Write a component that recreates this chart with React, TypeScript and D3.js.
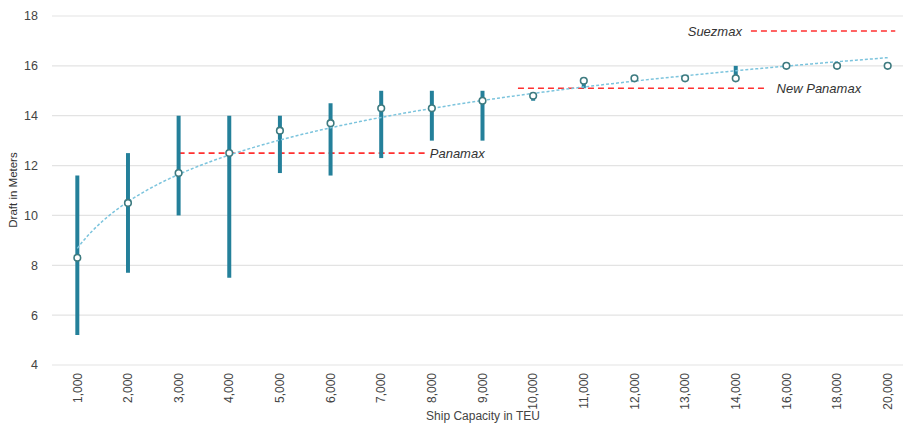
import * as d3 from 'd3';

// ship capacity categories (TEU)
const categories = ['1,000', '2,000', '3,000', '4,000', '5,000', '6,000', '7,000', '8,000', '9,000',
  '10,000', '11,000', '12,000', '13,000', '14,000', '16,000', '18,000', '20,000'];
// average draft (m)
const avgDraft = [8.3, 10.5, 11.7, 12.5, 13.4, 13.7, 14.3, 14.3, 14.6, 14.8, 15.4, 15.5, 15.5, 15.5, 16.0, 16.0, 16.0];
// min / max draft (m)
const minDraft = [5.2, 7.7, 10.0, 7.5, 11.7, 11.6, 12.3, 13.0, 13.0, 14.6, 15.1, 15.5, 15.5, 15.5, 16.0, 16.0, 16.0];
const maxDraft = [11.6, 12.5, 14.0, 14.0, 14.0, 14.5, 15.0, 15.0, 15.0, 14.9, 15.4, 15.5, 15.5, 16.0, 16.0, 16.0, 16.0];
const yTicks = [4, 6, 8, 10, 12, 14, 16, 18];

// canal limits: name, draft, span in category-index units
const limitNames = ['Panamax', 'New Panamax', 'Suezmax'];
const limitDraft = [12.5, 15.1, 17.4];
const limitFrom = [2, 8.7, 13.3];
const limitTo = [6.86, 13.57, 16.15];

const W = 903, H = 425;
const FONT = "'Liberation Sans Narrow', 'Arial Narrow', 'Liberation Sans', Arial, sans-serif";

export default function App() {
  const x = d3.scaleBand<string>().domain(categories).range([52, 913]).padding(0);
  const cx = (i: number) => (x(categories[0]) as number) + x.bandwidth() / 2 + i * x.step();
  const y = d3.scaleLinear().domain([4, 18]).range([365, 16]);

  // logarithmic trendline fitted to the averages (x = 1..n)
  const lx = avgDraft.map((_, i) => Math.log(i + 1));
  const mx = d3.mean(lx) as number, my = d3.mean(avgDraft) as number;
  const slope = d3.sum(lx, (v, i) => (v - mx) * (avgDraft[i] - my)) / d3.sum(lx, v => (v - mx) ** 2);
  const icpt = my - slope * mx;
  const trendPts = d3.range(0, categories.length - 1 + 0.001, 0.1).map(t => [cx(t), y(icpt + slope * Math.log(t + 1))] as [number, number]);
  const trend = d3.line().curve(d3.curveMonotoneX)(trendPts) as string;

  return (
    <svg width={W} height={H} style={{ position: 'absolute', left: 0, top: 0, background: '#fff' }} fontFamily={FONT}>
      {yTicks.map(t => (
        <g key={t}>
          <line x1={52} x2={W} y1={y(t)} y2={y(t)} stroke="#e3e3e3" strokeWidth={1.2} />
          <text x={38} y={y(t)} dy="0.35em" textAnchor="end" fontSize={12.5} fill="#444">{t}</text>
        </g>
      ))}
      {categories.map((c, i) => (
        <text key={c} transform={`translate(${cx(i)},373) rotate(-90)`} textAnchor="end" dy="0.35em" fontSize={12} fill="#444">{c}</text>
      ))}
      <text transform="translate(17,190) rotate(-90)" textAnchor="middle" fontSize={11.5} fill="#333">Draft in Meters</text>
      <text x={483} y={420} textAnchor="middle" fontSize={12} fill="#444">Ship Capacity in TEU</text>

      {limitNames.map((n, i) => (
        <line key={n} x1={cx(limitFrom[i])} x2={cx(limitTo[i])} y1={y(limitDraft[i])} y2={y(limitDraft[i])}
          stroke="#ff3030" strokeWidth={1.6} strokeDasharray="6,4" />
      ))}
      <text x={cx(limitTo[0]) + 5} y={y(limitDraft[0])} dy="0.35em" fontSize={13} fontStyle="italic" fill="#333">{limitNames[0]}</text>
      <text x={cx(limitTo[1]) + 12} y={y(limitDraft[1])} dy="0.35em" fontSize={13} fontStyle="italic" fill="#333">{limitNames[1]}</text>
      <text x={cx(limitFrom[2]) - 9} y={y(limitDraft[2])} dy="0.35em" textAnchor="end" fontSize={13} fontStyle="italic" fill="#333">{limitNames[2]}</text>

      {categories.map((c, i) => (
        <line key={c} x1={cx(i)} x2={cx(i)} y1={y(minDraft[i])} y2={y(maxDraft[i])} stroke="#24809a" strokeWidth={4} />
      ))}
      <path d={trend} fill="none" stroke="#7cc4dd" strokeWidth={1.5} strokeDasharray="3,2" />
      {categories.map((c, i) => (
        <circle key={c} cx={cx(i)} cy={y(avgDraft[i])} r={3.3} fill="#fff" stroke="#3e7b80" strokeWidth={1.6} />
      ))}
    </svg>
  );
}
